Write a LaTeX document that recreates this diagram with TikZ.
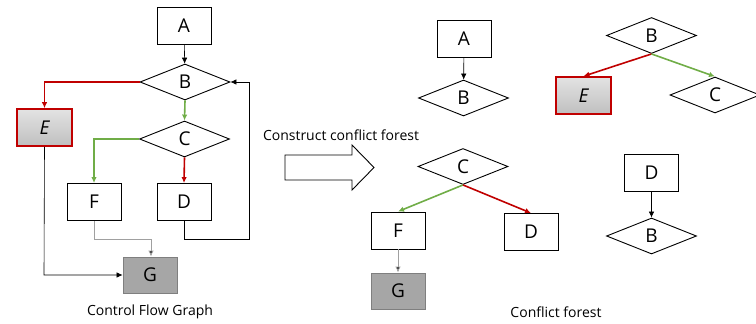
\documentclass[tikz,border=0pt]{standalone}
\usepackage{fontspec}
\setmainfont{Open Sans}
\usetikzlibrary{shapes.geometric,arrows.meta}
\definecolor{redc}{HTML}{C00000}
\definecolor{greenc}{HTML}{70AD47}
\definecolor{gfill}{HTML}{A6A6A6}
\definecolor{gline}{HTML}{7F7F7F}
\definecolor{lgline}{HTML}{A0A0A0}
\begin{document}
\begin{tikzpicture}[x=1pt,y=-1pt,
  every node/.style={font=\fontsize{19}{19}\selectfont, inner sep=0pt},
  box/.style={draw, line width=0.9pt, minimum width=54pt, minimum height=37pt},
  dia/.style={diamond, draw, line width=0.9pt, minimum width=90pt, minimum height=36pt},
  ebox/.style={draw=redc, line width=1.6pt, minimum width=55pt, minimum height=37pt, top color=gray!22, bottom color=gray!50},
  gbox/.style={draw=gline, line width=0.9pt, fill=gfill, minimum width=54pt, minimum height=36pt},
  tip/.style={-{Latex[length=6pt,width=5.5pt]}},
  blk/.style={tip, line width=0.6pt},
  redarr/.style={tip, draw=redc, line width=1.6pt},
  grnarr/.style={tip, draw=greenc, line width=1.6pt},
  grayarr/.style={-{Latex[length=6pt,width=5.5pt,fill=black]}, draw=lgline, line width=0.9pt},
  lbl/.style={font=\fontsize{14}{14}\selectfont}
]
\useasboundingbox (0,0) rectangle (756,324);
% ---- Control flow graph
\node[box] (A) at (184,25.5) {A};
\node[dia] (B) at (185,82) {B};
\node[ebox] (E) at (44.5,127.5) {\itshape E};
\node[dia] (C) at (184.5,139) {C};
\node[box] (F) at (94,202) {F};
\node[box] (D) at (184,202) {D};
\node[gbox] (G) at (150,275) {G};
\coordinate (loopA) at (184,239);
\coordinate (loopB) at (249,239);
\coordinate (loopC) at (249,82);
\coordinate (fg1) at (94,239);
\coordinate (fg2) at (151,239);
\coordinate (eg) at (44,275);
\draw[blk] (A) -- (B);
\draw[redarr] (B.west) -| (E.north);
\draw[grnarr] (B.south) -- (C.north);
\draw[grnarr] (C.west) -| (F.north);
\draw[redarr] (C.south) -- (D.north);
\draw[blk] (D.south) -- (loopA) -- (loopB) -- (loopC) -- (B.east);
\draw[grayarr] (F.south) -- (fg1) -- (fg2) -- (fg2 |- G.north);
\draw[blk] (E.south) -- (eg) -- (G.west);
\node[lbl] (cfg) at (150,312) {Control Flow Graph};
% ---- middle arrow
\node[lbl] (cons) at (341,135) {Construct conflict forest};
\draw[line width=0.9pt] (285,155) -- (352,155) -- (352,145) -- (374,167.5) -- (352,190) -- (352,180) -- (285,180) -- cycle;
% ---- Conflict forest
\node[box] (A1) at (464,39) {A};
\node[dia] (B1) at (463.5,98) {B};
\draw[blk] (A1) -- (B1);
\node[dia] (B2) at (651.5,35.5) {B};
\node[ebox] (E2) at (583.5,95.5) {\itshape E};
\node[dia] (C2) at (715,95) {C};
\draw[redarr] (B2.south) -- (E2.north);
\draw[grnarr] (B2.south) -- (C2.north);
\node[dia] (C3) at (463,166.5) {C};
\node[box] (F3) at (398,230.5) {F};
\node[box] (D3) at (531,232) {D};
\node[gbox] (G3) at (398,291) {G};
\draw[grnarr] (C3.south) -- (F3.north);
\draw[redarr] (C3.south) -- (D3.north);
\draw[grayarr] (F3) -- (G3);
\node[box] (D4) at (651.5,172.5) {D};
\node[dia] (B4) at (651.5,236) {B};
\draw[blk] (D4) -- (B4);
\node[lbl] (cf) at (556,312) {Conflict forest};
\end{tikzpicture}
\end{document}
